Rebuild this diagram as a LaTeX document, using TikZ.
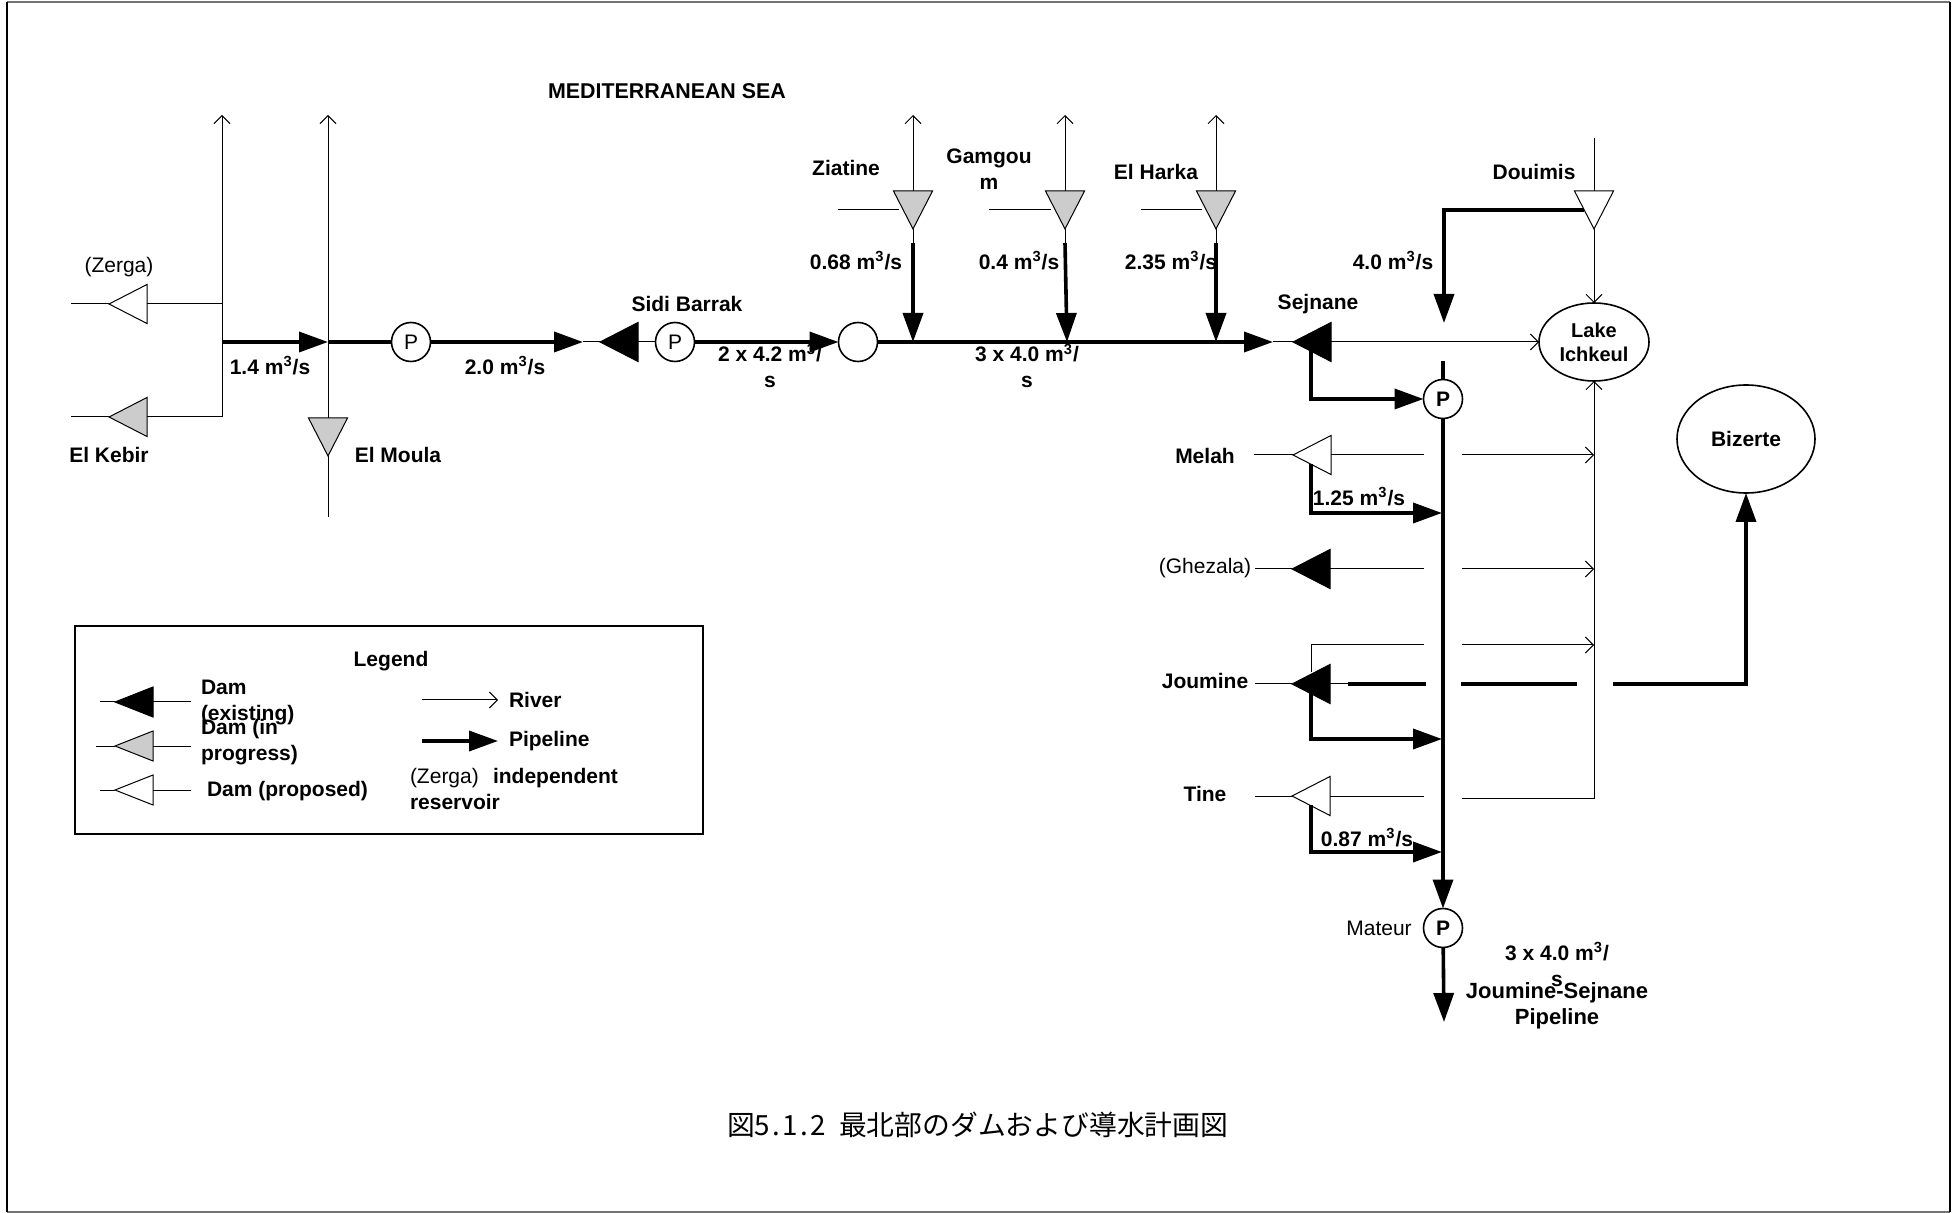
\documentclass[tikz,border=0pt]{standalone}
\usepackage{fontspec}
\setmainfont{Liberation Sans}
\newfontfamily\cjkfont{Noto Sans CJK JP}
\usetikzlibrary{arrows.meta,shapes.geometric}
\newcommand{\cub}{m\textsuperscript{3}}
\newcommand{\hw}[1]{\makebox[0.5em]{#1}}
\begin{document}
\begin{tikzpicture}[x=0.5pt, y=-0.5pt, line join=miter,
    every node/.style={font=\fontsize{10.5}{13}\selectfont, inner sep=0pt, outer sep=0pt, align=center},
    lbl/.style={font=\fontsize{10.5}{13}\selectfont\bfseries},
    river/.style={draw=black, line width=0.5pt},
    riverto/.style={river, -{Straight Barb[length=4pt,width=8pt]}},
    pipe/.style={draw=black, line width=1.8pt},
    pipeto/.style={pipe, -{Triangle[length=14.5pt,width=10pt]}},
    dam/.style={draw=black, line width=0.5pt, isosceles triangle, isosceles triangle stretches, minimum width=19.5pt, minimum height=19pt, anchor=apex},
    damleft/.style={dam, shape border rotate=180},
    damdown/.style={dam, shape border rotate=270},
    keydam/.style={damleft, minimum width=15pt},
    pump/.style={circle, draw=black, line width=0.8pt, fill=white, minimum size=19.5pt},
    lake/.style={ellipse, draw=black, line width=0.8pt},
    sidebar/.style={draw=black, line width=1pt},
    topbar/.style={draw=black!55, line width=1pt}]
    \useasboundingbox (0,0) rectangle (1955,1213);
    \coordinate (cornera) at (7,2.5);
    \coordinate (cornerb) at (1950,2.5);
    \coordinate (cornerc) at (1950,1211.5);
    \coordinate (cornerd) at (7,1211.5);
    \draw[topbar] (cornera) -- (cornerb);
    \draw[topbar] (cornerd) -- (cornerc);
    \draw[sidebar] (cornera) -- (cornerd);
    \draw[sidebar] (cornerb) -- (cornerc);
    \node[lbl, font=\fontsize{10.7}{13}\selectfont\bfseries] (seaname) at (667,91) {MEDITERRANEAN SEA};
    \node[lbl] (legendname) at (391,661) {Legend};
    \node (zerganame) at (119,267) {(Zerga)};
    \node[lbl] (kebirname) at (109,455) {El Kebir};
    \node[lbl] (moulaname) at (398,455) {El Moula};
    \node[lbl] (sidiname) at (687,304) {Sidi Barrak};
    \node[lbl] (ziatinename) at (846,168) {Ziatine};
    \node[lbl] (gamgouname) at (989,169) {Gamgou\\[0pt]m};
    \node[lbl] (harkaname) at (1156,172) {El Harka};
    \node[lbl] (douimisname) at (1534,172) {Douimis};
    \node[lbl] (sejnanename) at (1318,304) {Sejnane};
    \node[lbl] (melahname) at (1205,456) {Melah};
    \node (ghezalaname) at (1205,568) {(Ghezala)};
    \node[lbl] (jouminename) at (1205,681) {Joumine};
    \node[lbl] (tinename) at (1205,794) {Tine};
    \node (mateurname) at (1379,928) {Mateur};
    \node[lbl] (flowa) at (270,366) {1.4 \cub/s};
    \node[lbl] (flowb) at (505,366) {2.0 \cub/s};
    \node[lbl] (flowc) at (770,366) {2 x 4.2 \cub/\\s};
    \node[lbl] (flowd) at (1027,366) {3 x 4.0 \cub/\\s};
    \node[lbl] (flowe) at (856,261) {0.68 \cub/s};
    \node[lbl] (flowf) at (1019,261) {0.4 \cub/s};
    \node[lbl] (flowg) at (1171,261) {2.35 \cub/s};
    \node[lbl] (flowh) at (1393,261) {4.0 \cub/s};
    \node[lbl] (flowi) at (1359,497) {1.25 \cub/s};
    \node[lbl] (flowj) at (1367,838) {0.87 \cub/s};
    \node[lbl] (flowk) at (1557,964) {3 x 4.0 \cub/\\s};
    \node[lbl, font=\fontsize{11}{13}\selectfont\bfseries] (pipename) at (1557,1006) {Joumine-Sejnane\\Pipeline};
    \node[font=\cjkfont\fontsize{13.9}{16}\selectfont] (caption) at (978,1125) {図\hw{5}\hw{.}\hw{1}\hw{.}\hw{2}\hw{\ }最北部のダムおよび導水計画図};

    \node[damleft, fill=white] (zerga) at (109,304) {};
    \node[damleft, fill=black!20] (kebir) at (109,417) {};
    \node[damdown, fill=black!20] (moula) at (328,456) {};
    \node[damleft, fill=black] (sidi) at (600,342) {};
    \node[damdown, fill=black!20] (ziatine) at (913,229) {};
    \node[damdown, fill=black!20] (gamgou) at (1065,229) {};
    \node[damdown, fill=black!20] (harka) at (1216,229) {};
    \node[damdown, fill=white] (douimis) at (1594,229) {};
    \node[damleft, fill=black] (sejnane) at (1293,342) {};
    \node[damleft, fill=white] (melah) at (1293,455) {};
    \node[damleft, fill=black] (ghezala) at (1292,569) {};
    \node[damleft, fill=black] (joumine) at (1292,684) {};
    \node[damleft, fill=white] (tine) at (1292,796) {};

    \node[pump] (pumpa) at (411,342) {P};
    \node[pump] (pumpb) at (675,342) {P};
    \node[pump] (junction) at (858,342) {};
    \node[pump, lbl] (pumpc) at (1443,399) {P};
    \node[pump, lbl] (mateur) at (1443,928) {P};
    \node[lake, font=\fontsize{10}{12}\selectfont\bfseries, minimum width=55pt, minimum height=39pt] (ichkeul) at (1594,342) {Lake\\Ichkeul};
    \node[lake, lbl, minimum width=69pt, minimum height=54pt] (bizerte) at (1746,439) {Bizerte};

    \coordinate (zergain) at (71,304);
    \coordinate (kebirin) at (71,417);
    \coordinate (tributary) at (222,342);
    \coordinate (tribzerga) at (222,304);
    \coordinate (tribkebir) at (222,417);
    \coordinate (tribtop) at (222,115);
    \coordinate (moulatop) at (328,115);
    \coordinate (moulaend) at (328,517);
    \coordinate (moulacross) at (328,342);
    \draw[river] (zergain) -- (zerga.apex);
    \draw[river] (zerga.lower side) -- (tribzerga);
    \draw[river] (kebirin) -- (kebir.apex);
    \draw[riverto] (kebir.lower side) -- (tribkebir) -- (tribtop);
    \draw[riverto] (moula.lower side) -- (moulatop);
    \draw[river] (moula.apex) -- (moulaend);
    \draw[pipeto] (tributary) -- (moulacross);
    \draw[pipe] (moulacross) -- (pumpa);
    \draw[pipeto] (pumpa) -- ++(172,0) coordinate (sidiend);
    \draw[river] (sidiend) -- (sidi.apex);
    \draw[river] (sidi.lower side) -- (pumpb);
    \draw[pipeto] (pumpb) -- (junction);

    \coordinate (ziatinejoin) at (913,342);
    \coordinate (gamgoujoin) at (1067,342);
    \coordinate (harkajoin) at (1216,342);
    \foreach \dname/\dx/\dleft/\dstop in {ziatine/913/838/899, gamgou/1065/989/1051, harka/1216/1141/1202}{
        \coordinate (\dname top) at (\dx,115);
        \coordinate (\dname side) at (\dleft,210);
        \coordinate (\dname end) at (\dstop,210);
        \coordinate (\dname pipe) at (\dx,243);
        \draw[riverto] (\dname.lower side) -- (\dname top);
        \draw[river] (\dname side) -- (\dname end);
        \draw[river] (\dname.apex) -- (\dname pipe);
    }
    \draw[pipeto] (ziatinepipe) -- (ziatinejoin);
    \draw[pipeto] (gamgoupipe) -- (gamgoujoin);
    \draw[pipeto] (harkapipe) -- (harkajoin);
    \coordinate (sejnaneend) at (1273,342);
    \draw[pipeto] (junction) -- (sejnaneend);
    \draw[river] (sejnaneend) -- (sejnane.apex);
    \draw[riverto] (sejnane.lower side) -- (ichkeul);

    \coordinate (douimistop) at (1594,138);
    \coordinate (douimisout) at (1584,210);
    \coordinate (douimisbend) at (1444,210);
    \coordinate (douimisend) at (1444,323);
    \draw[river] (douimistop) -- (douimis.lower side);
    \draw[riverto] (douimis.apex) -- (ichkeul);
    \draw[pipeto] (douimisout) -- (douimisbend) -- (douimisend);

    \coordinate (pumpctop) at (1443,361);
    \coordinate (sejnaneout) at (1311,351);
    \coordinate (sejnanebend) at (1311,399);
    \draw[pipe] (pumpctop) -- (pumpc);
    \draw[pipeto] (sejnaneout) -- (sejnanebend) -- (pumpc);
    \draw[pipeto] (pumpc) -- (mateur);
    \coordinate (mateurend) at (1444,1022);
    \draw[pipeto] (mateur) -- (mateurend);

    \coordinate (melahin) at (1254,455);
    \coordinate (melahgap) at (1424,455);
    \coordinate (melahright) at (1462,455);
    \coordinate (melahlake) at (1594,455);
    \coordinate (ghezalain) at (1255,569);
    \coordinate (ghezalagap) at (1424,569);
    \coordinate (ghezalaright) at (1462,569);
    \coordinate (ghezalalake) at (1594,569);
    \coordinate (upperout) at (1311,672);
    \coordinate (upperbend) at (1311,645);
    \coordinate (uppergap) at (1424,645);
    \coordinate (upperright) at (1462,645);
    \coordinate (upperlake) at (1594,645);
    \coordinate (tinein) at (1255,796);
    \coordinate (tinegap) at (1424,796);
    \coordinate (tineright) at (1462,798);
    \coordinate (tinelake) at (1594,798);
    \coordinate (jouminein) at (1255,684);
    \coordinate (jouminethin) at (1348,684);
    \coordinate (jouminegap) at (1426,684);
    \coordinate (jouminea) at (1461,684);
    \coordinate (joumineb) at (1577,684);
    \coordinate (joureturn) at (1613,684);
    \coordinate (joucorner) at (1746,684);
    \draw[river] (melahin) -- (melah.apex);
    \draw[river] (melah.lower side) -- (melahgap);
    \draw[riverto] (melahright) -- (melahlake);
    \draw[river] (ghezalain) -- (ghezala.apex);
    \draw[river] (ghezala.lower side) -- (ghezalagap);
    \draw[riverto] (ghezalaright) -- (ghezalalake);
    \draw[river] (upperout) -- (upperbend) -- (uppergap);
    \draw[riverto] (upperright) -- (upperlake);
    \draw[river] (jouminein) -- (joumine.apex);
    \draw[river] (joumine.lower side) -- (jouminethin);
    \draw[pipe] (jouminethin) -- (jouminegap);
    \draw[pipe] (jouminea) -- (joumineb);
    \draw[pipeto] (joureturn) -- (joucorner) -- (bizerte);
    \draw[river] (tinein) -- (tine.apex);
    \draw[river] (tine.lower side) -- (tinegap);
    \draw[riverto] (tineright) -- (tinelake) -- (ichkeul);

    \coordinate (melahout) at (1311,464);
    \coordinate (melahbend) at (1311,513);
    \coordinate (melahjoin) at (1442,513);
    \coordinate (jouout) at (1311,693);
    \coordinate (joubend) at (1311,739);
    \coordinate (joujoin) at (1442,739);
    \coordinate (tineout) at (1311,805);
    \coordinate (tinebend) at (1311,852);
    \coordinate (tinejoin) at (1442,852);
    \draw[pipeto] (melahout) -- (melahbend) -- (melahjoin);
    \draw[pipeto] (jouout) -- (joubend) -- (joujoin);
    \draw[pipeto] (tineout) -- (tinebend) -- (tinejoin);

    \node[draw=black, line width=0.8pt, minimum width=314pt, minimum height=104pt] (legendbox) at (389,730) {};
    \node[keydam, fill=black] (keyblack) at (115,702) {};
    \node[keydam, fill=black!20] (keygray) at (115,746) {};
    \node[keydam, fill=white] (keywhite) at (115,790) {};
    \coordinate (keya) at (100,702);
    \coordinate (keyb) at (191,702);
    \coordinate (keyc) at (96,746);
    \coordinate (keyd) at (191,746);
    \coordinate (keye) at (100,790);
    \coordinate (keyf) at (191,790);
    \draw[river] (keya) -- (keyblack.apex);
    \draw[river] (keyblack.lower side) -- (keyb);
    \draw[river] (keyc) -- (keygray.apex);
    \draw[river] (keygray.lower side) -- (keyd);
    \draw[river] (keye) -- (keywhite.apex);
    \draw[river] (keywhite.lower side) -- (keyf);
    \node[lbl, align=left, anchor=west] (keytexta) at (201,703) {Dam\\(existing)};
    \node[lbl, align=left, anchor=west] (keytextb) at (201,742) {Dam (in\\progress)};
    \node[lbl, anchor=west] (keytextc) at (207,791) {Dam (proposed)};
    \node[lbl, anchor=west] (rivertext) at (509,700) {River};
    \node[lbl, anchor=west] (pipetext) at (509,741) {Pipeline};
    \coordinate (riverfrom) at (422,700);
    \coordinate (pipefrom) at (422,741);
    \draw[riverto, shorten >=5.5pt] (riverfrom) -- (rivertext.west);
    \draw[pipeto, shorten >=5.5pt] (pipefrom) -- (pipetext.west);
    \node[anchor=west] (keyzerga) at (410,778) {(Zerga)};
    \node[lbl, anchor=west] (keyindep) at (493,778) {independent};
    \node[lbl, anchor=west] (keyres) at (410,802) {reservoir};
\end{tikzpicture}
\end{document}
